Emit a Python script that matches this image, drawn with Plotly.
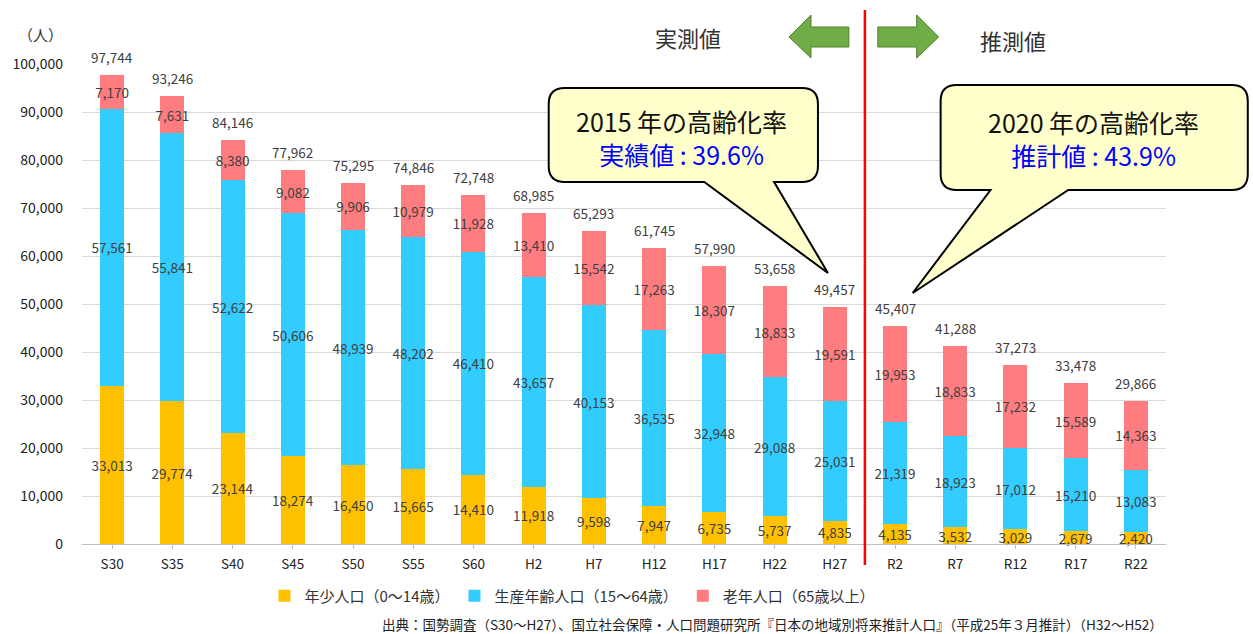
import plotly.graph_objects as go

categories = ["S30", "S35", "S40", "S45", "S50", "S55", "S60", "H2", "H7", "H12",
              "H17", "H22", "H27", "R2", "R7", "R12", "R17", "R22"]
young = [33013, 29774, 23144, 18274, 16450, 15665, 14410, 11918, 9598, 7947,
         6735, 5737, 4835, 4135, 3532, 3029, 2679, 2420]
working = [57561, 55841, 52622, 50606, 48939, 48202, 46410, 43657, 40153, 36535,
           32948, 29088, 25031, 21319, 18923, 17012, 15210, 13083]
elderly = [7170, 7631, 8380, 9082, 9906, 10979, 11928, 13410, 15542, 17263,
           18307, 18833, 19591, 19953, 18833, 17232, 15589, 14363]
totals = [97744, 93246, 84146, 77962, 75295, 74846, 72748, 68985, 65293, 61745,
          57990, 53658, 49457, 45407, 41288, 37273, 33478, 29866]
series_names = ["年少人口（0～14歳）", "生産年齢人口（15～64歳）", "老年人口（65歳以上）"]
series_colors = ["#FFC000", "#33CCFF", "#FF7C80"]
y_ticks = [0, 10000, 20000, 30000, 40000, 50000, 60000, 70000, 80000, 90000, 100000]

FONT = "Noto Sans CJK JP"
W, H = 1253, 634
L, R, T, B = 79, 1166, 64, 544


def px(x):
    return (x - L) / (R - L)


def py(y):
    return (B - y) / (B - T)


def path(points, close=True):
    s = "M " + " L ".join(f"{px(x):.5f},{py(y):.5f}" for x, y in points)
    return s + (" Z" if close else "")


def callout(x0, y0, x1, y1, r, tail_a, tail_b, tip):
    def p(x, y):
        return f"{px(x):.5f},{py(y):.5f}"
    s = f"M {p(x0 + r, y0)} L {p(x1 - r, y0)} Q {p(x1, y0)} {p(x1, y0 + r)}"
    s += f" L {p(x1, y1 - r)} Q {p(x1, y1)} {p(x1 - r, y1)}"
    s += f" L {p(tail_a, y1)} L {p(tip[0], tip[1])} L {p(tail_b, y1)}"
    s += f" L {p(x0 + r, y1)} Q {p(x0, y1)} {p(x0, y1 - r)}"
    s += f" L {p(x0, y0 + r)} Q {p(x0, y0)} {p(x0 + r, y0)} Z"
    return s


def label(x, y, text, size, color, xanchor="center"):
    return dict(x=px(x), y=py(y), xref="paper", yref="paper", text=text, showarrow=False,
                xanchor=xanchor, yanchor="middle",
                font=dict(family=FONT, size=size, color=color))


fig = go.Figure()
for name, vals, col in zip(series_names, [young, working, elderly], series_colors):
    fig.add_trace(go.Bar(
        x=categories, y=vals, name=name, marker=dict(color=col, line=dict(width=0)),
        text=[f"{v:,}" for v in vals], textposition="inside", insidetextanchor="middle",
        textangle=0, constraintext="none",
        textfont=dict(family=FONT, size=13.5, color="#404040"),
        cliponaxis=False,
    ))

annotations = []
for c, t in zip(categories, totals):
    annotations.append(dict(x=c, y=t, xref="x", yref="y", text=f"{t:,}", showarrow=False,
                            xanchor="center", yanchor="middle",
                            yshift=18, font=dict(family=FONT, size=13.5, color="#404040")))

annotations += [
    label(37, 34, "（人）", 15, "#333333"),
    label(687, 37, "実測値", 22, "#333333"),
    label(1013, 40, "推測値", 22, "#333333"),
    label(680, 137, "2015 年の高齢化率<br><span style='color:#0000FF'>実績値 : 39.6%</span>",
          25, "#111111"),
    label(1093, 138, "2020 年の高齢化率<br><span style='color:#0000FF'>推計値 : 43.9%</span>",
          25, "#111111"),
    label(1165, 624,
          "出典：国勢調査（S30～H27）、国立社会保障・人口問題研究所『日本の地域別将来推計人口』（平成25年３月推計）（H32～H52）",
          13.5, "#222222", xanchor="right"),
]

shapes = [
    dict(type="line", xref="x", yref="paper", x0=12.5, x1=12.5, y0=py(565), y1=py(10),
         line=dict(color="#FF0000", width=2.5)),
    dict(type="path", xref="paper", yref="paper",
         path=path([(788, 37), (810, 15), (810, 27), (848, 27), (848, 47), (810, 47), (810, 58)]),
         fillcolor="#70AD47", line=dict(color="#507E32", width=1)),
    dict(type="path", xref="paper", yref="paper",
         path=path([(938, 37), (916, 15), (916, 27), (877, 27), (877, 47), (916, 47), (916, 58)]),
         fillcolor="#70AD47", line=dict(color="#507E32", width=1)),
    dict(type="path", xref="paper", yref="paper",
         path=callout(547, 88, 817, 182, 16, 773, 703, (827, 273)),
         fillcolor="#FFFFCC", line=dict(color="#000000", width=2)),
    dict(type="path", xref="paper", yref="paper",
         path=callout(940, 85, 1248, 190, 16, 1068, 990, (912, 293)),
         fillcolor="#FFFFCC", line=dict(color="#000000", width=2)),
]

fig.update_layout(
    width=W, height=H,
    margin=dict(l=L, r=W - R, t=T, b=H - B),
    barmode="stack", bargap=0.6,
    plot_bgcolor="white", paper_bgcolor="white",
    font=dict(family=FONT, size=13, color="#222222"),
    annotations=annotations, shapes=shapes,
    legend=dict(orientation="h", x=px(262), y=py(596), xanchor="left", yanchor="middle",
                font=dict(family=FONT, size=15, color="#333333"), traceorder="normal",
                itemwidth=30),
    xaxis=dict(type="category", showgrid=False, showline=True, linecolor="#BFBFBF", linewidth=1,
               ticks="outside", ticklen=4, tickcolor="#BFBFBF", ticklabelstandoff=4,
               tickfont=dict(family=FONT, size=13.5, color="#222222")),
    yaxis=dict(range=[0, 100000], tickvals=y_ticks, tickformat=",", showgrid=True,
               gridcolor="#D9D9D9", gridwidth=1, zeroline=False, showline=False,
               ticklabelstandoff=18,
               tickfont=dict(family=FONT, size=14, color="#222222")),
)

fig.write_html("out.html", config={"displayModeBar": False},
               post_script="document.body.style.margin='0';document.body.style.overflow='hidden';")
